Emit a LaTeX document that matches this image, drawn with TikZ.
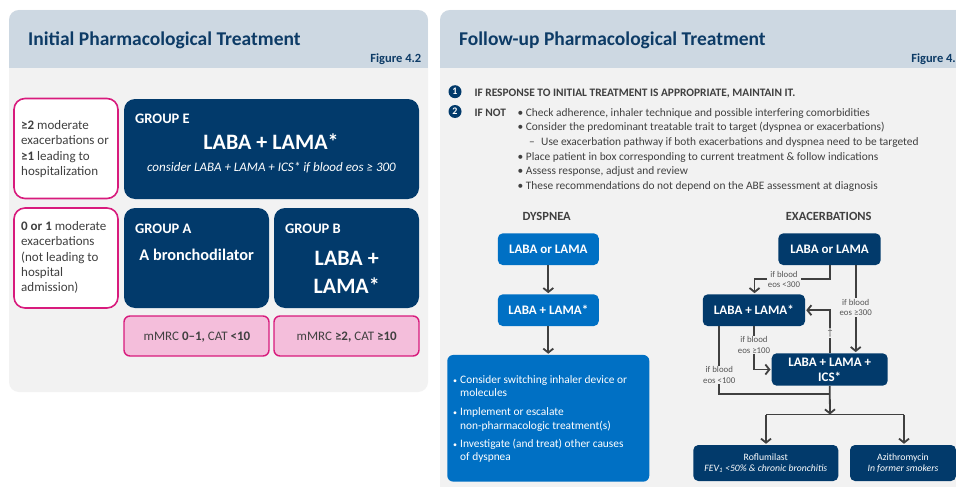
\documentclass[tikz,border=0pt]{standalone}
\usepackage{fontspec}
\setmainfont{Carlito}
\usetikzlibrary{arrows.meta}
\definecolor{dblue}{HTML}{023A6B}
\definecolor{mblue}{HTML}{0070C4}
\definecolor{bandc}{HTML}{CDD8E2}
\definecolor{bodyg}{HTML}{F2F2F2}
\definecolor{pinkline}{HTML}{D81B7D}
\definecolor{pinkfill}{HTML}{F4BEDB}
\definecolor{tgray}{HTML}{404040}
\definecolor{lgray}{HTML}{555555}
\definecolor{titleblue}{HTML}{0D3B66}
\definecolor{arrgray}{HTML}{404040}
\newcommand{\fs}[2]{\fontsize{#1}{#2}\selectfont}
\begin{document}
\begin{tikzpicture}[x=1pt,y=-1pt,
  txt/.style={inner sep=0pt, anchor=base west, text=tgray},
  ctxt/.style={inner sep=0pt, anchor=base, text=white},
  wtxt/.style={inner sep=0pt, anchor=base west, text=white},
  critbox/.style={draw=pinkline, line width=1.6pt, fill=white, rounded corners=11pt, inner sep=0pt},
  grpbox/.style={fill=dblue, rounded corners=11pt, inner sep=0pt},
  pinkbox/.style={draw=pinkline, line width=1.4pt, fill=pinkfill, rounded corners=6pt, inner sep=0pt, text=tgray, font=\fs{13}{15}},
  dbox/.style={fill=dblue, rounded corners=5pt, inner sep=0pt, text=white, align=center, font=\bfseries\fs{13}{15}},
  mbox/.style={fill=mblue, rounded corners=5pt, inner sep=0pt, text=white, align=center, font=\bfseries\fs{13}{15}},
  lbl/.style={fill=bodyg, inner sep=1pt, text=lgray, align=center, font=\fs{8.8}{10.6}},
  conn/.style={draw=arrgray, line width=1.8pt},
  arr/.style={conn, -{Straight Barb[length=4pt,width=10pt,line width=1.8pt]}, shorten >=1pt},
  btitle/.style={inner sep=0pt, anchor=base west, text=titleblue, font=\bfseries\fs{19.5}{22}},
  figlbl/.style={inner sep=0pt, anchor=base east, text=titleblue, font=\bfseries\fs{12.5}{14}},
  numc/.style={circle, fill=dblue, text=white, inner sep=0pt, minimum size=13pt, font=\bfseries\fs{10}{11}},
  bl/.style={inner sep=0pt, anchor=base west, text=tgray, font=\fs{11.4}{14}},
  bbl/.style={inner sep=0pt, anchor=base west, text=white, font=\fs{11.4}{14}}
]
\useasboundingbox (0,0) rectangle (956,487);
\clip (0,0) rectangle (956,487);
\fill[white] (0,0) rectangle (956,487);

% ---------- left panel ----------
\fill[bodyg, rounded corners=10pt] (9,10) rectangle (428,392);
\begin{scope}
  \clip[rounded corners=10pt] (9,10) rectangle (428,392);
  \fill[bandc] (9,10) rectangle (428,68);
\end{scope}
\node[btitle] (ltitle) at (28,46) {Initial Pharmacological Treatment};
\node[figlbl] (lfig) at (421.5,63) {Figure 4.2};

% criteria boxes
\node[critbox, minimum width=104pt, minimum height=100pt] (c1) at (66,148.5) {};
\node[txt, font=\fs{13}{15.6}] (c1a) at (21,129) {\textbf{≥2} moderate};
\node[txt, font=\fs{13}{15.6}] (c1b) at (21,144.5) {exacerbations or};
\node[txt, font=\fs{13}{15.6}] (c1c) at (21,160) {\textbf{≥1} leading to};
\node[txt, font=\fs{13}{15.6}] (c1d) at (21,175.5) {hospitalization};

\node[critbox, minimum width=104pt, minimum height=100pt] (c2) at (66,258) {};
\node[txt, font=\fs{13}{15.6}] (c2a) at (21,230.5) {\textbf{0 or 1} moderate};
\node[txt, font=\fs{13}{15.6}] (c2b) at (21,245.8) {exacerbations};
\node[txt, font=\fs{13}{15.6}] (c2c) at (21,261.1) {(not leading to};
\node[txt, font=\fs{13}{15.6}] (c2d) at (21,276.5) {hospital};
\node[txt, font=\fs{13}{15.6}] (c2e) at (21,291.9) {admission)};

% group E
\node[grpbox, minimum width=295pt, minimum height=100pt] (gE) at (271.5,149) {};
\node[wtxt, font=\bfseries\fs{14.5}{17}] (gEn) at (135,123) {GROUP E};
\node[ctxt, font=\bfseries\fs{22}{26}] (gEt) at (271,149) {LABA + LAMA*};
\node[ctxt, font=\itshape\fs{13}{15}] (gEs) at (271.5,171) {consider LABA + LAMA + ICS* if blood eos ≥ 300};

% group A
\node[grpbox, minimum width=145pt, minimum height=100pt] (gA) at (196.5,258) {};
\node[wtxt, font=\bfseries\fs{14.5}{17}] (gAn) at (135,233) {GROUP A};
\node[ctxt, font=\bfseries\fs{16.3}{19}] (gAt) at (196.7,260) {A bronchodilator};

% group B
\node[grpbox, minimum width=145pt, minimum height=100pt] (gB) at (346.5,258) {};
\node[wtxt, font=\bfseries\fs{14.5}{17}] (gBn) at (285,233) {GROUP B};
\node[ctxt, font=\bfseries\fs{22}{26}] (gBt1) at (346.7,265) {LABA +};
\node[ctxt, font=\bfseries\fs{22}{26}] (gBt2) at (346.7,293) {LAMA*};

% symptom boxes
\node[pinkbox, minimum width=145pt, minimum height=40pt] (pA) at (196.5,336) {};
\node[inner sep=0pt, anchor=base, text=tgray, font=\fs{13}{15}] (pAt) at (197,340.7) {mMRC \textbf{0–1,} CAT \textbf{<10}};
\node[pinkbox, minimum width=145pt, minimum height=40pt] (pB) at (346.5,336) {};
\node[inner sep=0pt, anchor=base, text=tgray, font=\fs{13}{15}] (pBt) at (346.7,340.7) {mMRC \textbf{≥2,} CAT \textbf{≥10}};

% ---------- right panel ----------
\fill[bodyg, rounded corners=10pt] (440,10) rectangle (980,510);
\begin{scope}
  \clip[rounded corners=10pt] (440,10) rectangle (980,510);
  \fill[bandc] (440,10) rectangle (980,68);
\end{scope}
\node[btitle] (rtitle) at (459,46) {Follow-up Pharmacological Treatment};
\node[figlbl] (rfig) at (956,63) {Figure 4.};

\node[numc] (n1) at (455,91.7) {1};
\node[numc] (n2) at (455,111.5) {2};
\node[bl, font=\bfseries\fs{11.4}{14}] (s1) at (474.3,96) {IF RESPONSE TO INITIAL TREATMENT IS APPROPRIATE, MAINTAIN IT.};
\node[bl, font=\bfseries\fs{11.4}{14}] (s2) at (474.3,116) {IF NOT};
\node[bl] (b1d) at (517.5,116) {•};
\node[bl] (b1) at (525.7,116) {Check adherence, inhaler technique and possible interfering comorbidities};
\node[bl] (b2d) at (517.5,130.7) {•};
\node[bl] (b2) at (525.7,130.7) {Consider the predominant treatable trait to target (dyspnea or exacerbations)};
\node[bl] (b3d) at (529,145.2) {–};
\node[bl] (b3) at (541,145.2) {Use exacerbation pathway if both exacerbations and dyspnea need to be targeted};
\node[bl] (b4d) at (517.5,160) {•};
\node[bl] (b4) at (525.7,160) {Place patient in box corresponding to current treatment \& follow indications};
\node[bl] (b5d) at (517.5,174.8) {•};
\node[bl] (b5) at (525.7,174.8) {Assess response, adjust and review};
\node[bl] (b6d) at (517.5,189.5) {•};
\node[bl] (b6) at (525.7,189.5) {These recommendations do not depend on the ABE assessment at diagnosis};

% dyspnea pathway
\node[inner sep=0pt, anchor=base, text=tgray, font=\bfseries\fs{12.5}{14}] (dyt) at (546.7,220) {DYSPNEA};
\node[mbox, minimum width=101pt, minimum height=31.7pt] (d1) at (548.3,249.2) {LABA or LAMA};
\node[mbox, minimum width=101pt, minimum height=31.7pt] (d2) at (548.3,310.2) {LABA + LAMA*};
\node[fill=mblue, rounded corners=6pt, inner sep=0pt, minimum width=202pt, minimum height=126.7pt] (d3) at (548.3,418.3) {};
\node[bbl, font=\fs{8}{10}] (d3ad) at (453,383.3) {•};
\node[bbl] (d3a1) at (460,383.3) {Consider switching inhaler device or};
\node[bbl] (d3a2) at (460,396.8) {molecules};
\node[bbl, font=\fs{8}{10}] (d3bd) at (453,415) {•};
\node[bbl] (d3b1) at (460,415) {Implement or escalate};
\node[bbl] (d3b2) at (460,429) {non-pharmacologic treatment(s)};
\node[bbl, font=\fs{8}{10}] (d3cd) at (453,447) {•};
\node[bbl] (d3c1) at (460,447) {Investigate (and treat) other causes};
\node[bbl] (d3c2) at (460,460.7) {of dyspnea};
\draw[arr] (d1.south) -- (d2.north);
\draw[arr] (d2.south) -- (d2.south |- d3.north);

% exacerbation pathway
\node[inner sep=0pt, anchor=base, text=tgray, font=\bfseries\fs{12.5}{14}] (ext) at (828.7,220) {EXACERBATIONS};
\node[dbox, minimum width=102.4pt, minimum height=31.7pt] (e1) at (829.5,249.2) {LABA or LAMA};
\node[dbox, minimum width=102.3pt, minimum height=31.7pt] (e2) at (753.9,310.2) {LABA + LAMA*};
\node[dbox, minimum width=116pt, minimum height=32.4pt] (e3) at (829.7,369.5) {LABA + LAMA +\\ICS*};
\node[dbox, font=\fs{9.7}{11}, minimum width=145pt, minimum height=36pt] (rof) at (765.8,463) {Roflumilast\\\textit{FEV\textsubscript{1} <50\% \& chronic bronchitis}};
\node[dbox, font=\fs{9.7}{11}, minimum width=106pt, minimum height=36pt] (azi) at (903,463) {Azithromycin\\\textit{In former smokers}};

\coordinate (j1) at (830,394.3);
\coordinate (j2) at (830,414.5);
\coordinate (j3) at (766,414.5);
\coordinate (j4) at (904,414.5);
\coordinate (k1) at (754.5,278.7);
\draw[arr] ([xshift=0.5pt]e1.south) |- (k1) -- (k1 |- e2.north);
\draw[arr] ([xshift=26.2pt]e1.south) -- ([xshift=26pt]e3.north);
\draw[arr] (e3.north) |- (e2.east);
\draw[arr] (e2.south) |- (e3.west);
\draw[conn] ([xshift=-34.6pt]e2.south) |- (j1);
\draw[arr, shorten >=0pt] (e3.south) -- (j2);
\draw[conn] (j3) -- (j4);
\draw[arr] (j3) -- (j3 |- rof.north);
\draw[arr] (j4) -- (j4 |- azi.north);

\node[lbl] (l1) at (784,279.5) {if blood\\eos <300};
\node[lbl] (l2) at (855.7,307.5) {if blood\\eos ≥300};
\node[lbl, font=\fs{10}{11}] (l3) at (830,333) {†};
\node[lbl] (l4) at (754,345) {if blood\\eos ≥100};
\node[lbl] (l5) at (719.3,375) {if blood\\eos <100};
\end{tikzpicture}
\end{document}
